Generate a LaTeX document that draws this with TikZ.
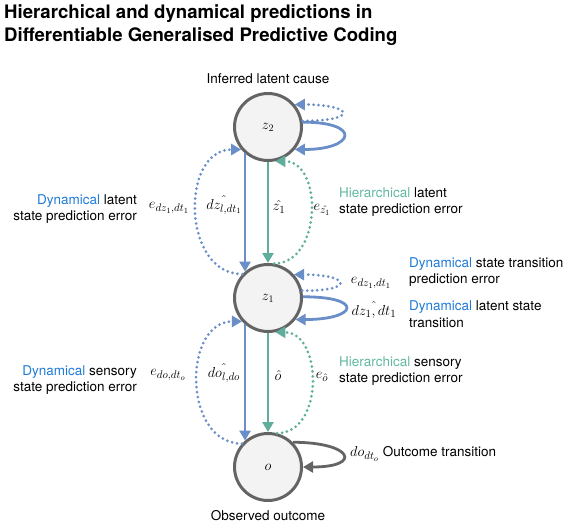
\documentclass[tikz,border=0pt]{standalone}
\usepackage{fontspec}
\setmainfont{TeX Gyre Heros}
\usetikzlibrary{arrows.meta,positioning}

\definecolor{dynblue}{HTML}{6A8EC8}
\definecolor{hiegreen}{HTML}{5FAE9B}
\definecolor{dyntext}{HTML}{1F7BD8}
\definecolor{hietext}{HTML}{62B8A2}
\definecolor{nodegray}{HTML}{646464}
\definecolor{nodefill}{HTML}{F3F3F3}

\newcommand{\dynword}{\textcolor{dyntext}{Dynamical}}
\newcommand{\hieword}{\textcolor{hietext}{Hierarchical}}

\begin{document}
\begin{tikzpicture}[x=1pt, y=-1pt,
  state/.style={circle, draw=nodegray, fill=nodefill, line width=3pt,
                minimum size=67pt, inner sep=0pt, font=\fontsize{14}{16}\selectfont},
  lbl/.style={font=\fontsize{13.5}{16.5}\selectfont, inner sep=0pt},
  mlbl/.style={font=\fontsize{15.5}{16}\selectfont, inner sep=0pt},
  pred/.style={-{Triangle[length=10pt,width=11pt]}, line width=2.8pt, draw=#1},
  err/.style={-{Triangle[length=10pt,width=11pt]}, line width=3pt, draw=#1,
              line cap=round, dash pattern=on 0pt off 5pt}]
\useasboundingbox (0,0) rectangle (581,528);

\node[anchor=north west, align=left, inner sep=0pt,
      font=\fontsize{18.6}{23.4}\selectfont\bfseries] (title) at (4,4)
  {Hierarchical and dynamical predictions in\\Differentiable Generalised Predictive Coding};

\node[state] (z2) at (268,127) {$z_2$};
\node[state] (z1) at (268,298) {$z_1$};
\node[state] (o) at (268,467) {$o$};
\node[lbl, above=8pt of z2] (cause) {Inferred latent cause};
\node[lbl, below=8pt of o] (outcome) {Observed outcome};

% upper level
\draw[pred=dynblue] (z2.-131) -- (z1.131);
\draw[pred=hiegreen] (z2.south) -- (z1.north);
\draw[err=dynblue] (z1.137) to[out=180, in=180, looseness=1.25] (z2.-140);
\draw[err=hiegreen] (z1.80) to[out=0, in=0, looseness=1.2] (z2.-78);
\draw[err=dynblue] (z2.10) .. controls +(58,0) and +(58,0) .. (z2.40);
\draw[pred=dynblue] (z2.8) .. controls +(60,0) and +(60,0) .. (z2.-40);

% lower level
\draw[pred=dynblue] (z1.-131) -- (o.131);
\draw[pred=hiegreen] (z1.south) -- (o.north);
\draw[err=dynblue] (o.138) to[out=180, in=180, looseness=1.25] (z1.-138);
\draw[err=hiegreen] (o.75) to[out=0, in=0, looseness=1.2] (z1.-78);
\draw[err=dynblue] (z1.12) .. controls +(55,0) and +(55,0) .. (z1.42);
\draw[pred=dynblue] (z1.2) .. controls +(62,0) and +(62,0) .. (z1.-38);
\draw[pred=nodegray] (o.45) .. controls +(60,0) and +(60,0) .. (o.0);

% labels
\node[mlbl] (ez1l) at (169,208) {$e_{dz_1,dt_1}$};
\node[mlbl] (dz1l) at (224,205) {$\hat{dz_{l,dt_1}}$};
\node[mlbl] (zhat) at (279,207) {$\hat{z_1}$};
\node[mlbl] (ez1h) at (322,210) {$e_{\hat{z_1}}$};
\node[lbl, anchor=east, align=right] (dynlat) at (137,209) {\dynword{} latent\\state prediction error};
\node[lbl, anchor=west, align=left] (hielat) at (339,202) {\hieword{} latent\\state prediction error};

\node[mlbl] (ez1t) at (371,283) {$e_{dz_1,dt_1}$};
\node[mlbl] (dz1t) at (374,310) {$\hat{dz_1,dt_1}$};
\node[lbl, anchor=west, align=left] (dyntr) at (409,272) {\dynword{} state transition\\prediction error};
\node[lbl, anchor=west, align=left] (dynls) at (409,314) {\dynword{} latent state\\transition};

\node[mlbl] (eol) at (168,375) {$e_{do,dt_o}$};
\node[mlbl] (dol) at (224,373) {$\hat{do_{l,do}}$};
\node[mlbl] (ohat) at (278,375) {$\hat{o}$};
\node[mlbl] (eoh) at (322,377) {$e_{\hat{o}}$};
\node[lbl, anchor=east, align=right] (dynsen) at (137,380) {\dynword{} sensory\\state prediction error};
\node[lbl, anchor=west, align=left] (hiesen) at (339,371) {\hieword{} sensory\\state prediction error};

\node[lbl, anchor=west] (otr) at (350,454) {{\fontsize{15.5}{16}\selectfont$do_{dt_o}$} Outcome transition};
\end{tikzpicture}
\end{document}
